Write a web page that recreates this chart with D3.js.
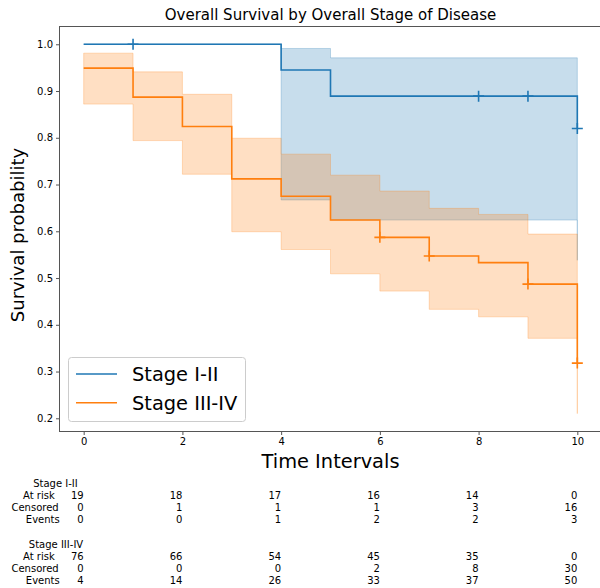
<!DOCTYPE html>
<html>
<head>
<meta charset="utf-8">
<script src="https://cdn.jsdelivr.net/npm/d3@7"></script>
<style>
    body { margin: 0; background: #fff; }
    svg text { font-family: "DejaVu Sans", sans-serif; fill: #000; }
</style>
</head>
<body>
<svg id="chart" width="600" height="588"></svg>
<script>
// survival curves (step post)
var stage12Times = [0, 4, 5, 10];
var stage12Surv = [1.0, 0.945, 0.889, 0.820];
var stage12Lower = [1.0, 0.667, 0.624, 0.538];
var stage12Upper = [1.0, 0.991, 0.971, 0.955];
var stage12Censor = [1, 8, 9, 10];

var stage34Times = [0, 1, 2, 3, 4, 5, 6, 7, 8, 9, 10];
var stage34Surv = [0.949, 0.887, 0.824, 0.712, 0.675, 0.624, 0.587, 0.547, 0.533, 0.487, 0.318];
var stage34Lower = [0.872, 0.794, 0.722, 0.599, 0.561, 0.509, 0.472, 0.433, 0.417, 0.371, 0.210];
var stage34Upper = [0.981, 0.941, 0.893, 0.799, 0.765, 0.720, 0.686, 0.649, 0.636, 0.594, 0.450];
var stage34Censor = [6, 7, 9, 10];

var seriesNames = ['Stage I-II', 'Stage III-IV'];
var seriesColors = ['#1f77b4', '#ff7f0e'];

// at-risk table
var tableTimes = [0, 2, 4, 6, 8, 10];
var tableRows = ['At risk', 'Censored', 'Events'];
var stage12AtRisk = [19, 18, 17, 16, 14, 0];
var stage12Censored = [0, 1, 1, 1, 3, 16];
var stage12Events = [0, 0, 1, 2, 2, 3];
var stage34AtRisk = [76, 66, 54, 45, 35, 0];
var stage34Censored = [0, 0, 0, 2, 8, 30];
var stage34Events = [4, 14, 26, 33, 37, 50];

var xTicks = [0, 2, 4, 6, 8, 10];
var yTicks = [0.2, 0.3, 0.4, 0.5, 0.6, 0.7, 0.8, 0.9, 1.0];

(function () {
    var svg = d3.select('#chart');

    var m = { left: 59, right: 602, top: 26, bottom: 431 };

    var x = d3.scaleLinear().domain([-0.5, 10.5]).range([m.left, m.right]);
    var y = d3.scaleLinear().domain([0.1728, 1.0391]).range([m.bottom, m.top]);

    var series = [
        { times: stage12Times, surv: stage12Surv, lo: stage12Lower, hi: stage12Upper, cens: stage12Censor },
        { times: stage34Times, surv: stage34Surv, lo: stage34Lower, hi: stage34Upper, cens: stage34Censor }
    ];

    var plot = svg.append('g');

    // confidence bands
    var band = d3.area()
        .curve(d3.curveStepAfter)
        .x(function (d) { return x(d.t); })
        .y0(function (d) { return y(d.lo); })
        .y1(function (d) { return y(d.hi); });

    series.forEach(function (s, i) {
        var pts = s.times.map(function (t, j) { return { t: t, lo: s.lo[j], hi: s.hi[j] }; });
        plot.append('path')
            .attr('d', band(pts))
            .attr('fill', seriesColors[i])
            .attr('fill-opacity', 0.25)
            .attr('stroke', seriesColors[i])
            .attr('stroke-opacity', 0.25)
            .attr('stroke-width', 1);
    });

    // survival lines
    var line = d3.line()
        .curve(d3.curveStepAfter)
        .x(function (d) { return x(d.t); })
        .y(function (d) { return y(d.v); });

    series.forEach(function (s, i) {
        var pts = s.times.map(function (t, j) { return { t: t, v: s.surv[j] }; });
        plot.append('path')
            .attr('d', line(pts))
            .attr('fill', 'none')
            .attr('stroke', seriesColors[i])
            .attr('stroke-width', 1.6);

        // censor marks
        plot.selectAll('.cens' + i)
            .data(s.cens)
            .enter()
            .append('path')
            .attr('class', 'cens' + i)
            .attr('transform', function (t) {
                var j = d3.bisectRight(s.times, t) - 1;
                return 'translate(' + x(t) + ',' + y(s.surv[j]) + ')';
            })
            .attr('d', 'M-5.5,0H5.5M0,-5.5V5.5')
            .attr('stroke', seriesColors[i])
            .attr('stroke-width', 1.6);
    });

    // spines
    var spine = '#555';
    svg.append('rect')
        .attr('x', m.left + 0.5).attr('y', m.top + 0.5)
        .attr('width', m.right - m.left).attr('height', m.bottom - m.top)
        .attr('fill', 'none')
        .attr('stroke', spine)
        .attr('stroke-width', 1);

    // axes
    var xAxis = svg.append('g')
        .attr('transform', 'translate(0,' + (m.bottom + 0.5) + ')')
        .call(d3.axisBottom(x).tickValues(xTicks).tickSize(3.5).tickPadding(3).tickFormat(d3.format('d')));
    var yAxis = svg.append('g')
        .attr('transform', 'translate(' + (m.left + 0.5) + ',0)')
        .call(d3.axisLeft(y).tickValues(yTicks).tickSize(3.5).tickPadding(3).tickFormat(d3.format('.1f')));

    [xAxis, yAxis].forEach(function (a) {
        a.select('.domain').remove();
        a.selectAll('line').attr('stroke', spine);
        a.selectAll('text').attr('font-size', 10).attr('font-family', '"DejaVu Sans", sans-serif').attr('fill', '#000');
    });

    // title and labels
    svg.append('text')
        .attr('x', (m.left + m.right) / 2).attr('y', 20)
        .attr('text-anchor', 'middle')
        .attr('font-size', 15)
        .text('Overall Survival by Overall Stage of Disease');

    svg.append('text')
        .attr('x', (m.left + m.right) / 2).attr('y', 468)
        .attr('text-anchor', 'middle')
        .attr('font-size', 19.4)
        .text('Time Intervals');

    svg.append('text')
        .attr('transform', 'translate(24,235) rotate(-90)')
        .attr('text-anchor', 'middle')
        .attr('font-size', 18)
        .text('Survival probability');

    // legend
    var legend = svg.append('g');
    legend.append('rect')
        .attr('x', 68.5).attr('y', 357.5)
        .attr('width', 177).attr('height', 64)
        .attr('rx', 3)
        .attr('fill', '#fff').attr('fill-opacity', 0.8)
        .attr('stroke', '#ccc');

    seriesNames.forEach(function (name, i) {
        var ly = 374 + i * 28.7;
        legend.append('line')
            .attr('x1', 76).attr('x2', 117)
            .attr('y1', ly).attr('y2', ly)
            .attr('stroke', seriesColors[i])
            .attr('stroke-width', 1.6);
        legend.append('text')
            .attr('x', 132).attr('y', ly + 7)
            .attr('font-size', 19.4)
            .text(name);
    });

    // at-risk table
    var groups = [
        { name: seriesNames[0], rows: [stage12AtRisk, stage12Censored, stage12Events], base: 486.5, nameDx: -6 },
        { name: seriesNames[1], rows: [stage34AtRisk, stage34Censored, stage34Events], base: 547.5, nameDx: -0.5 }
    ];
    var rowLabelDx = [-29, -25, -24];
    var rowStep = 12.2;

    groups.forEach(function (g) {
        svg.append('text')
            .attr('x', x(0) + g.nameDx).attr('y', g.base)
            .attr('text-anchor', 'end')
            .attr('font-size', 10)
            .text(g.name);

        g.rows.forEach(function (vals, r) {
            var ry = g.base + (r + 1) * rowStep;
            svg.append('text')
                .attr('x', x(0) + rowLabelDx[r]).attr('y', ry)
                .attr('text-anchor', 'end')
                .attr('font-size', 10)
                .text(tableRows[r]);

            svg.selectAll(null)
                .data(vals)
                .enter()
                .append('text')
                .attr('x', function (d, k) { return x(tableTimes[k]); })
                .attr('y', ry)
                .attr('text-anchor', 'end')
                .attr('font-size', 10)
                .text(function (d) { return d; });
        });
    });
}());
</script>
</body>
</html>
